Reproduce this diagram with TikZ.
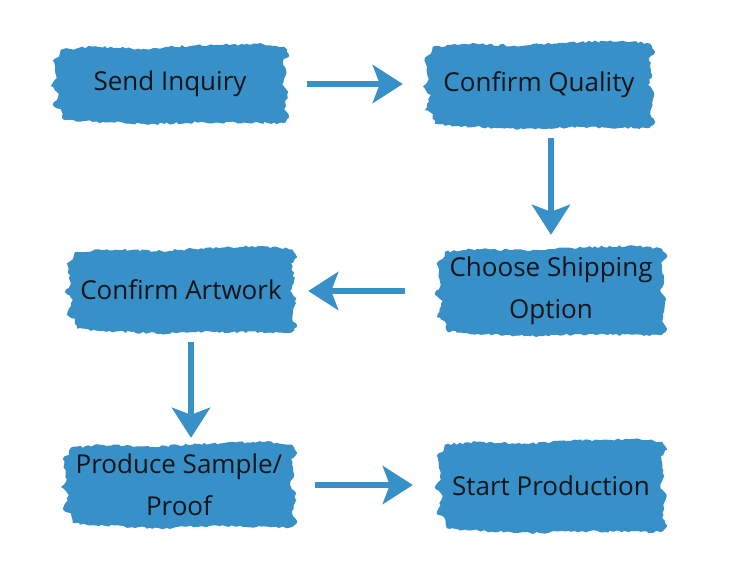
\documentclass[tikz,border=0pt]{standalone}
\usepackage{fontspec}
\setmainfont{Open Sans}
\usetikzlibrary{arrows.meta,calc,decorations.pathmorphing}
\pgfdeclarelayer{background}
\pgfsetlayers{background,main}
\definecolor{brushblue}{RGB}{55,144,199}
\definecolor{inktext}{RGB}{20,20,25}
\tikzset{
  box/.style={draw=none, inner sep=0pt, align=center, text=inktext,
    font=\fontsize{26}{42}\selectfont},
  flow/.style={draw=brushblue, line width=6pt,
    -{Stealth[length=30pt,width=38pt,inset=7pt]}},
  brushfill/.style={fill=brushblue, decorate,
    decoration={random steps, segment length=3pt, amplitude=1.2pt}}
}
\newcommand\brushshape[1]{%
  \fill[brushfill]
    ($(#1.north west)+(8,5)$) -- ($(#1.north west)+(40,2)$) -- ($(#1.north west)+(90,4)$)
    -- ($(#1.north)+(20,1)$) -- ($(#1.north east)+(-30,-1)$) -- ($(#1.north east)+(-3,2)$)
    -- ($(#1.north east)+(2,10)$) -- ($(#1.north east)+(-4,16)$) -- ($(#1.east)+(-1,-10)$)
    -- ($(#1.east)+(-5,0)$) -- ($(#1.east)+(1,8)$) -- ($(#1.south east)+(-3,-14)$)
    -- ($(#1.south east)+(2,-6)$) -- ($(#1.south east)+(-4,0)$)
    -- ($(#1.south)+(30,-1)$) -- ($(#1.south)+(-20,1)$) -- ($(#1.south west)+(30,-2)$)
    -- ($(#1.south west)+(10,-4)$) -- ($(#1.south west)+(8,-14)$) -- ($(#1.south west)+(0,-18)$)
    -- ($(#1.west)+(6,10)$) -- ($(#1.west)+(-2,2)$) -- ($(#1.west)+(4,-6)$)
    -- ($(#1.north west)+(0,16)$) -- ($(#1.north west)+(6,12)$) -- cycle;}
\begin{document}
\begin{tikzpicture}[x=1pt,y=-1pt]
\pgfmathsetseed{12}
\useasboundingbox (0,0) rectangle (750,569);
\node[box, minimum width=234pt, minimum height=78pt] (n1) at (170,84) {Send Inquiry};
\node[box, minimum width=228pt, minimum height=86pt] (n2) at (539,85) {Confirm Quality};
\node[box, minimum width=228pt, minimum height=88pt] (n3) at (551,291) {Choose Shipping\\ Option};
\node[box, minimum width=228pt, minimum height=85pt] (n4) at (181,290) {Confirm Artwork};
\node[box, minimum width=232pt, minimum height=84pt] (n5) at (179,485) {Produce Sample/\\ Proof};
\node[box, minimum width=228pt, minimum height=92pt] (n6) at (551,486) {Start Production};
\begin{pgfonlayer}{background}
\fill[white] (0,0) rectangle (750,569);
\brushshape{n1}\brushshape{n2}\brushshape{n3}\brushshape{n4}\brushshape{n5}\brushshape{n6}
\end{pgfonlayer}
\draw[flow, shorten <=20pt, shorten >=22pt] (n1.east) -- (n1.east -| n2.west);
\draw[flow, shorten <=10pt, shorten >=12pt] (n2.south -| n3.north) -- (n3.north);
\draw[flow, shorten <=32pt, shorten >=13pt] (n3.west) -- (n3.west -| n4.east);
\draw[flow, shorten <=9pt, shorten >=5pt] ([xshift=10pt]n4.south) -- ([xshift=10pt]n4.south |- n5.north);
\draw[flow, shorten <=20pt, shorten >=24pt] (n5.east) -- (n5.east -| n6.west);
\end{tikzpicture}
\end{document}
